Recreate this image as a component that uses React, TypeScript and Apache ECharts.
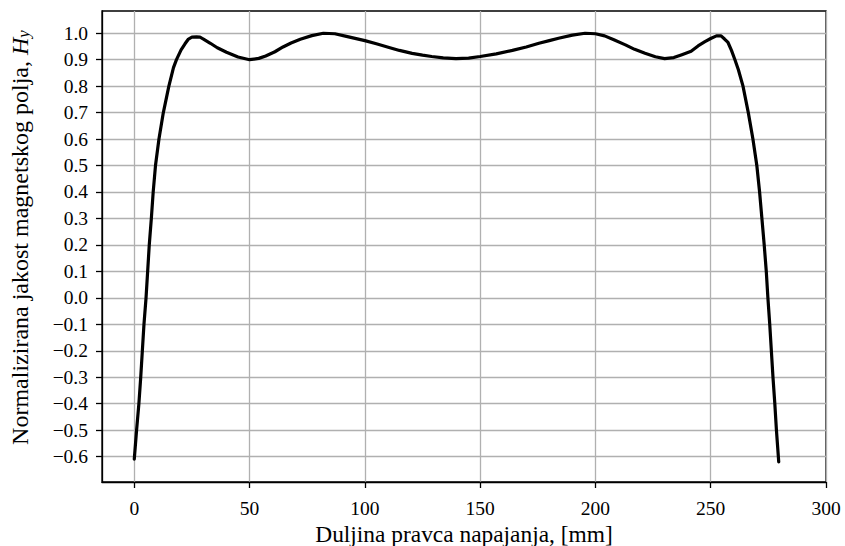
import React, { useEffect, useRef } from 'react';
import * as echarts from 'echarts';

const positionMm = [
  0, 1, 2, 2.8, 3.5, 4.2, 5.1, 5.8, 6.5, 7.4, 8.2, 9.2, 10.7, 12.6, 15.0, 17.0, 18.3, 20.3, 22, 23.5,
  25, 27, 28.5, 30, 33, 36, 40, 45, 50, 54, 57, 61, 64.5, 68, 72, 77, 82, 87, 92, 100, 105, 110.5, 115,
  120.5, 125, 129, 134, 139.5, 145, 150, 157, 164, 170, 175.5, 180, 184, 190, 195.5, 200, 204, 208, 213,
  217, 221.5, 226, 230, 234, 237.5, 241.5, 244.5, 247.5, 250, 252.5, 254.5, 256, 257.5, 259, 260.5, 262,
  264, 266.3, 268.3, 270, 271.2, 272.2, 273.2, 274.1, 274.8, 275.6, 276.3, 277, 277.8, 278.5, 279.5,
];

const fieldHy = [
  -0.61, -0.5, -0.4, -0.3, -0.2, -0.1, 0.0, 0.1, 0.2, 0.3, 0.4, 0.5, 0.6, 0.7, 0.8, 0.87, 0.9, 0.937,
  0.96, 0.978, 0.985, 0.986, 0.985, 0.978, 0.962, 0.945, 0.928, 0.91, 0.9, 0.905, 0.914, 0.93, 0.948, 0.963,
  0.977, 0.991, 1.0, 0.998, 0.988, 0.972, 0.96, 0.946, 0.935, 0.924, 0.917, 0.912, 0.907, 0.904, 0.906,
  0.912, 0.922, 0.935, 0.948, 0.962, 0.972, 0.981, 0.993, 1.0, 0.998, 0.99, 0.975, 0.956, 0.939, 0.924,
  0.911, 0.904, 0.908, 0.919, 0.932, 0.952, 0.968, 0.98, 0.99, 0.99, 0.978, 0.965, 0.935, 0.9, 0.862, 0.8,
  0.7, 0.6, 0.5, 0.4, 0.3, 0.2, 0.1, 0.0, -0.1, -0.2, -0.3, -0.4, -0.5, -0.62,
];

const xTicks = [0, 50, 100, 150, 200, 250, 300];
const yTicks = [-0.6, -0.5, -0.4, -0.3, -0.2, -0.1, 0.0, 0.1, 0.2, 0.3, 0.4, 0.5, 0.6, 0.7, 0.8, 0.9, 1.0];

const xLabel = 'Duljina pravca napajanja, [mm]';
const yLabel = 'Normalizirana jakost magnetskog polja, {h|H}{s|y}';

export default function App() {
  const ref = useRef<HTMLDivElement>(null);

  useEffect(() => {
    if (!ref.current) return;
    const chart = echarts.init(ref.current, null, { renderer: 'svg' });
    const font = 'Liberation Serif';
    const axisColor = '#000';
    const gridColor = '#b0b0b0';
    const fmt = (v: number) => (v < -1e-9 ? '\u2212' : '') + Math.abs(v).toFixed(1);

    chart.setOption({
      animation: false,
      backgroundColor: '#fff',
      textStyle: { fontFamily: font },
      grid: {
        left: 102,
        right: 19,
        top: 11,
        bottom: 64,
        outerBoundsMode: 'none',
        containLabel: false,
        show: true,
        borderColor: axisColor,
        borderWidth: 1.3,
        backgroundColor: 'transparent',
      },
      xAxis: {
        type: 'value',
        min: -14,
        max: 300,
        name: xLabel,
        nameLocation: 'middle',
        nameGap: 37.5,
        nameTextStyle: { fontFamily: font, fontSize: 23.4, color: '#000' },
        axisLine: { show: true, onZero: false, lineStyle: { color: axisColor, width: 1.3 } },
        axisTick: { show: true, length: 6, customValues: xTicks, lineStyle: { color: axisColor, width: 1.3 } },
        axisLabel: { customValues: xTicks, margin: 16, fontFamily: font, fontSize: 19.5, color: '#000', formatter: (v: number) => String(v) },
        splitLine: { show: true, lineStyle: { color: gridColor, width: 1.3 } },
      },
      yAxis: {
        type: 'value',
        min: -0.696,
        max: 1.084,
        name: yLabel,
        nameLocation: 'middle',
        nameRotate: 90,
        nameGap: 70,
        nameTextStyle: {
          fontFamily: font,
          fontSize: 24,
          color: '#000',
          padding: [0, 0, 0, 18],
          rich: {
            h: { fontFamily: font, fontSize: 24, fontStyle: 'italic', color: '#000', lineHeight: 24 },
            s: { fontFamily: font, fontSize: 17, fontStyle: 'italic', color: '#000', verticalAlign: 'bottom', lineHeight: 12 },
          },
        },
        axisLine: { show: true, onZero: false, lineStyle: { color: axisColor, width: 1.3 } },
        axisTick: { show: true, length: 6, customValues: yTicks, lineStyle: { color: axisColor, width: 1.3 } },
        axisLabel: { customValues: yTicks, margin: 14, fontFamily: font, fontSize: 19.5, color: '#000', formatter: fmt },
        splitLine: { show: true, lineStyle: { color: gridColor, width: 1.3 } },
      },
      series: [
        {
          type: 'line',
          data: positionMm.map((x, i) => [x, fieldHy[i]]),
          showSymbol: false,
          symbol: 'none',
          smooth: false,
          lineStyle: { color: '#000', width: 3.2, join: 'round', cap: 'round' },
          clip: true,
        },
      ],
    });

    return () => chart.dispose();
  }, []);

  return <div ref={ref} style={{ position: 'fixed', left: 0, top: 0, width: 845, height: 546 }} />;
}
